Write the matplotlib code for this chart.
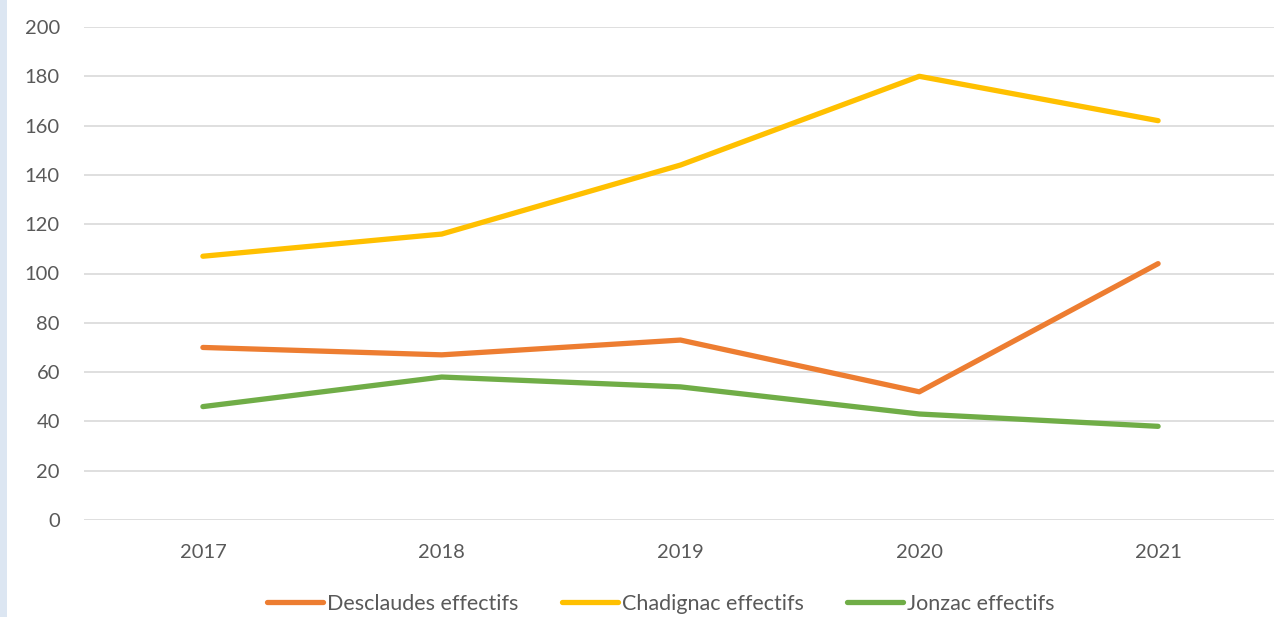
import matplotlib
matplotlib.use('Agg')
import matplotlib.pyplot as plt
from matplotlib.patches import Rectangle

# Chart data
YEARS = ['2017', '2018', '2019', '2020', '2021']
DESCLAUDES = [70, 67, 73, 52, 104]
CHADIGNAC = [107, 116, 144, 180, 162]
JONZAC = [46, 58, 54, 43, 38]
SERIES_NAMES = ['Desclaudes effectifs', 'Chadignac effectifs', 'Jonzac effectifs']

COLORS = ['#ED7D31', '#FFC000', '#70AD47']
TEXT_COLOR = '#595959'

plt.rcParams['font.family'] = ['Lato', 'DejaVu Sans']

fig = plt.figure(figsize=(12.74, 6.17), dpi=100)
ax = fig.add_axes([83.5 / 1274, 1 - 520 / 617, 1194 / 1274, 493 / 617])

x = range(len(YEARS))
for values, name, color in zip([DESCLAUDES, CHADIGNAC, JONZAC], SERIES_NAMES, COLORS):
    ax.plot(x, values, color=color, linewidth=3.8, solid_capstyle='round',
            solid_joinstyle='round', label=name)

ax.set_xlim(-0.5, len(YEARS) - 0.5)
ax.set_ylim(0, 200)
ax.set_yticks(range(0, 201, 20))
ax.set_xticks(list(x))
ax.set_xticklabels(YEARS)
ax.tick_params(axis='both', length=0, labelsize=14.5, colors=TEXT_COLOR)
ax.tick_params(axis='y', pad=17)
ax.tick_params(axis='x', pad=17)
ax.grid(axis='y', color='#D9D9D9', linewidth=1.2)
ax.set_axisbelow(True)
for spine in ax.spines.values():
    spine.set_visible(False)

# light blue strip on the left edge
fig.patches.append(Rectangle((0, 0), 7 / 1274, 1, transform=fig.transFigure,
                             facecolor='#DCE6F2', edgecolor='none'))

fig.legend(loc='center', bbox_to_anchor=(661 / 1274, 1 - 604 / 617), ncol=3,
           frameon=False, fontsize=15.5, handlelength=2.6, handletextpad=0.2,
           columnspacing=2.0, labelcolor=TEXT_COLOR)

fig.savefig('out.png', dpi=100)
